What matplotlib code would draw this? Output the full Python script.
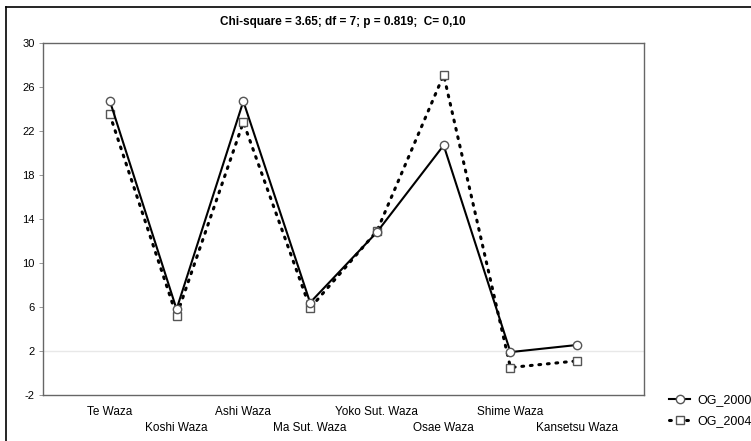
import matplotlib.pyplot as plt
from matplotlib.lines import Line2D

# data
categories = ["Te Waza", "Koshi Waza", "Ashi Waza", "Ma Sut. Waza",
              "Yoko Sut. Waza", "Osae Waza", "Shime Waza", "Kansetsu Waza"]
og_2000 = [24.75, 5.8, 24.7, 6.4, 12.8, 20.7, 1.9, 2.55]
og_2004 = [23.5, 5.2, 22.8, 5.9, 12.9, 27.1, 0.5, 1.1]
yticks = [-2, 2, 6, 10, 14, 18, 22, 26, 30]
title = "Chi-square = 3.65; df = 7; p = 0.819;  C= 0,10"

plt.rcParams['font.family'] = ['Liberation Sans', 'DejaVu Sans']

fig = plt.figure(figsize=(7.51, 4.41), dpi=100)
W, H = 751, 441
ax = fig.add_axes([43 / W, 1 - 395 / H, (644 - 43) / W, (395 - 43) / H])

x = list(range(len(categories)))
ax.axhline(2, color='#e8e8e8', lw=1.0, zorder=0)
ax.plot(x, og_2000, color='black', lw=1.5, marker='o', ms=6,
        mfc='white', mec='#555555', mew=1.0, label='OG_2000', zorder=3)
ax.plot(x, og_2004, color='black', lw=2.2, ls=(0, (0.6, 2.2)),
        dash_capstyle='round', marker='s', ms=6,
        mfc='white', mec='#555555', mew=1.0, label='OG_2004', zorder=2)

ax.set_xlim(-1, len(categories))
ax.set_ylim(-2, 30)
ax.set_yticks(yticks)
ax.set_yticklabels([str(v) for v in yticks], fontsize=8)
ax.tick_params(axis='y', length=3, width=0.6, color='#888888', pad=3)
ax.set_xticks([])
for s in ax.spines.values():
    s.set_color('#666666')
    s.set_linewidth(1.0)

# two staggered rows of category labels (offsets in points, 100 dpi)
for i, name in enumerate(categories):
    off = -12.3 if i % 2 == 0 else -23.5
    ax.annotate(name, xy=(i, -2), xytext=(0, off), textcoords='offset points',
                ha='center', va='center', fontsize=8.5, annotation_clip=False)

fig.text(343 / W, 1 - 22 / H, title, fontsize=8.5, fontweight='bold',
         ha='center', va='center')

leg = fig.legend(loc='upper left', bbox_to_anchor=(664 / W, 1 - 389 / H),
                 frameon=False, fontsize=9, handlelength=1.7,
                 handletextpad=0.6, labelspacing=0.75, borderaxespad=0)

fig.add_artist(Line2D([6.5 / W, 6.5 / W], [0, 1 - 6.5 / H], color='black', lw=1.2))
fig.add_artist(Line2D([6.5 / W, 1], [1 - 6.5 / H, 1 - 6.5 / H], color='black', lw=1.2))

fig.savefig('out.png', dpi=100)
